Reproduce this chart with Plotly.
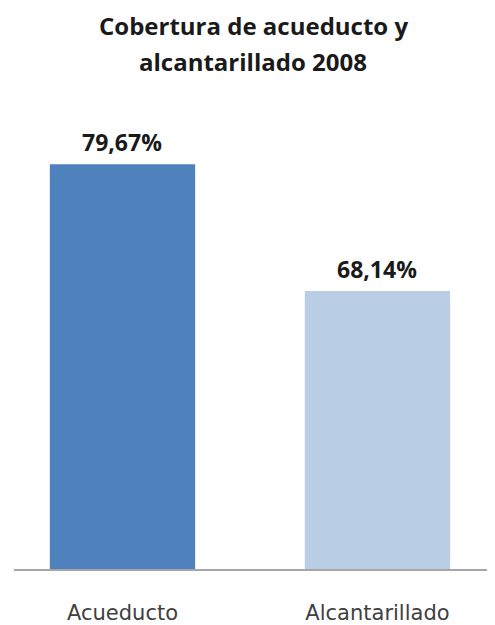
import plotly.graph_objects as go

categories = ["Acueducto", "Alcantarillado"]
values = [79.67, 68.14]
colors = ["#4F81BD", "#B9CDE5"]
labels = [f"{v:.2f}%".replace(".", ",") for v in values]
title_lines = ["Cobertura de acueducto y", "alcantarillado 2008"]

fig = go.Figure(go.Bar(
    x=[0, 1], y=values, width=0.57,
    marker=dict(color=colors, line=dict(width=0)),
    hoverinfo="skip",
))

for i, (v, t) in enumerate(zip(values, labels)):
    fig.add_annotation(x=i, y=v, text=f"<b>{t}</b>", showarrow=False,
                       xanchor="center", yanchor="bottom", yshift=4,
                       font=dict(family="Open Sans", size=23, color="#1a1a1a"))

for t, ys in zip(title_lines, [57, 21]):
    fig.add_annotation(x=0.497, y=1, xref="paper", yref="paper", text=f"<b>{t}</b>",
                       showarrow=False, xanchor="center", yanchor="bottom", yshift=ys,
                       borderpad=0,
                       font=dict(family="Open Sans", size=24, color="#1a1a1a"))

fig.update_layout(
    width=487, height=617,
    margin=dict(l=6, r=0, t=92, b=52),
    paper_bgcolor="white", plot_bgcolor="white",
    showlegend=False,
    xaxis=dict(range=[-0.4255, 1.461], tickvals=[0, 1], ticktext=categories,
               showline=True, linecolor="#A6A6A6", linewidth=2, showgrid=False,
               zeroline=False, ticks="", ticklabelstandoff=24,
               tickfont=dict(family="DejaVu Sans", size=21, color="#404040")),
    yaxis=dict(range=[42.9, 85.5], visible=False, showgrid=False),
)

fig.write_html("out.html")
